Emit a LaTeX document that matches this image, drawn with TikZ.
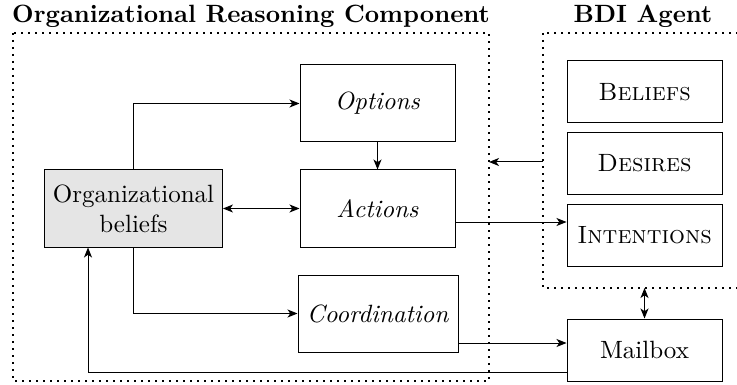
\documentclass[tikz,border=0pt]{standalone}
\usetikzlibrary{positioning,calc,arrows.meta}

\begin{document}
\begin{tikzpicture}[
  x=0.4pt,y=-0.4pt,>={Stealth[length=4pt,width=3.2pt,inset=1.1pt]},
  comp/.style={draw,minimum width=62pt,minimum height=30.8pt,align=center},
  bdibox/.style={draw,minimum width=62pt,minimum height=24.8pt},
  group/.style={draw,thick,dotted},
  grouptitle/.style={font=\bfseries,anchor=south,inner sep=2pt}]
\useasboundingbox (0,0) rectangle (737,385);
% reasoning component
\node[comp,fill=black!10,minimum width=70.8pt] (orgbel) at (133.5,208.5) {Organizational\\beliefs};
\node[comp] (options) at (377.5,103.5) {\textit{Options}};
\node[comp] (actions) at (377.5,208.5) {\textit{Actions}};
\node[comp,minimum width=64pt] (coord) at (378,313.5) {\textit{Coordination}};
% agent
\node[bdibox] (beliefs) at (644.5,92) {\textsc{Beliefs}};
\node[bdibox,below=3.4pt of beliefs] (desires) {\textsc{Desires}};
\node[bdibox,below=3.4pt of desires] (intentions) {\textsc{Intentions}};
\node[bdibox] (mailbox) at (644.5,350) {Mailbox};
% groups
\draw[group] (13,33) rectangle (489,381);
\draw[group] (543,33) rectangle (760,288);
\coordinate (orceast) at (489,162);
\coordinate (bdiwest) at (543,162);
\coordinate (bdisouth) at (644.5,288);
\node[grouptitle] (orctitle) at (251,33) {Organizational Reasoning Component};
\node[grouptitle] (bdititle) at (643,33) {BDI Agent};
% connectors
\draw[->] (orgbel.north) |- (options.west);
\draw[->] (options.south) -- (actions.north);
\draw[<->] (orgbel.east) -- (actions.west);
\draw[->] (orgbel.south) |- (coord.west);
\draw[->] ([yshift=-5.4pt]actions.east) -- ([yshift=-5.4pt]actions.east -| intentions.west);
\draw[->] (bdiwest) -- (orceast);
\draw[<->] (bdisouth) -- (mailbox.north);
\draw[->] ([yshift=-11.8pt]coord.east) -- ([yshift=-11.8pt]coord.east -| mailbox.west);
\draw[->] ([yshift=-8.8pt]mailbox.west) -| ([xshift=-18.2pt]orgbel.south);
\end{tikzpicture}
\end{document}
